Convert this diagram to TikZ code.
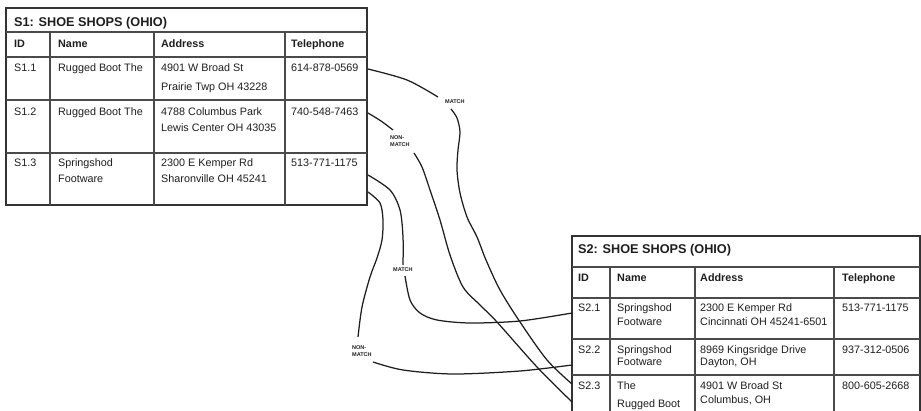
\documentclass[tikz,border=0pt]{standalone}
\usepackage{fontspec}
\setmainfont{Liberation Sans}
\definecolor{ink}{HTML}{1E1E1E}
\definecolor{rule}{HTML}{333333}
\definecolor{thin}{HTML}{4A4A4A}
\begin{document}
\begin{tikzpicture}[x=1pt,y=-1pt,
  outer/.style={draw=rule,line width=2pt},
  inner/.style={draw=thin,line width=1.1pt},
  link/.style={draw=ink,line width=1.25pt},
  cell/.style={anchor=base west,inner sep=0pt,text=ink,font=\fontsize{10.8}{13}\selectfont},
  hdr/.style={cell,font=\fontsize{10.8}{13}\selectfont\bfseries},
  ttl/.style={cell,font=\fontsize{12.7}{15}\selectfont\bfseries},
  lbl/.style={inner sep=0pt,text=ink,align=left,font=\fontsize{5.5}{7}\selectfont\bfseries}]
\useasboundingbox (0,0) rectangle (921,411);

% ---------- Table S1 ----------
\draw[outer] (6,8) rectangle (367,205);
\foreach \yy in {32,57,100,153} \draw[inner] (6,\yy) -- (367,\yy);
\foreach \xx in {50,154,285} \draw[inner] (\xx,32) -- (\xx,205);

\node[ttl] (a0) at (14,27) {S1: SHOE SHOPS (OHIO)};
\node[hdr] (ah1) at (14,48) {ID};
\node[hdr] (ah2) at (58,48) {Name};
\node[hdr] (ah3) at (161,48) {Address};
\node[hdr] (ah4) at (291,48) {Telephone};

\node[cell] (a11) at (14,72) {S1.1};
\node[cell] (a12) at (58,72) {Rugged Boot The};
\node[cell] (a13) at (161,72) {4901 W Broad St};
\node[cell] (a13b) at (161,91) {Prairie Twp OH 43228};
\node[cell] (a14) at (291,72) {614-878-0569};

\node[cell] (a21) at (14,116) {S1.2};
\node[cell] (a22) at (58,116) {Rugged Boot The};
\node[cell] (a23) at (161,116) {4788 Columbus Park};
\node[cell] (a23b) at (161,132) {Lewis Center OH 43035};
\node[cell] (a24) at (291,116) {740-548-7463};

\node[cell] (a31) at (14,167) {S1.3};
\node[cell] (a32) at (58,167) {Springshod};
\node[cell] (a32b) at (58,183) {Footware};
\node[cell] (a33) at (161,167) {2300 E Kemper Rd};
\node[cell] (a33b) at (161,183) {Sharonville OH 45241};
\node[cell] (a34) at (291,167) {513-771-1175};

% ---------- Table S2 ----------
\draw[outer] (572,236) rectangle (920,432);
\foreach \yy in {267,298,339,375} \draw[inner] (572,\yy) -- (920,\yy);
\foreach \xx in {610,695,834} \draw[inner] (\xx,267) -- (\xx,432);

\node[ttl] (b0) at (578,254) {S2: SHOE SHOPS (OHIO)};
\node[hdr] (bh1) at (578,282) {ID};
\node[hdr] (bh2) at (617,282) {Name};
\node[hdr] (bh3) at (700,282) {Address};
\node[hdr] (bh4) at (842,282) {Telephone};

\node[cell] (b11) at (578,312) {S2.1};
\node[cell] (b12) at (617,312) {Springshod};
\node[cell] (b12b) at (617,326) {Footware};
\node[cell] (b13) at (700,312) {2300 E Kemper Rd};
\node[cell] (b13b) at (700,326) {Cincinnati OH 45241-6501};
\node[cell] (b14) at (842,312) {513-771-1175};

\node[cell] (b21) at (578,354) {S2.2};
\node[cell] (b22) at (617,354) {Springshod};
\node[cell] (b22b) at (617,366) {Footware};
\node[cell] (b23) at (700,354) {8969 Kingsridge Drive};
\node[cell] (b23b) at (700,366) {Dayton, OH};
\node[cell] (b24) at (842,354) {937-312-0506};

\node[cell] (b31) at (578,390) {S2.3};
\node[cell] (b32) at (617,390) {The};
\node[cell] (b32b) at (617,407) {Rugged Boot};
\node[cell] (b33) at (700,390) {4901 W Broad St};
\node[cell] (b33b) at (700,404) {Columbus, OH};
\node[cell] (b34) at (842,390) {800-605-2668};

% ---------- labels ----------
\node[lbl,anchor=base west] (lm1) at (445,103.7) {MATCH};
\node[lbl,anchor=north west] (ln1) at (390,135) {NON-\\MATCH};
\node[lbl,anchor=base west] (lm2) at (393,272) {MATCH};
\node[lbl,anchor=north west] (ln2) at (352,345) {NON-\\MATCH};

% ---------- connector end points ----------
\coordinate (s11r) at (368,69);
\coordinate (s12r) at (368,113);
\coordinate (s13ra) at (368,175);
\coordinate (s13rb) at (368,192);
\coordinate (s21l) at (572,313);
\coordinate (s22l) at (572,365);
\coordinate (s23la) at (572,384);
\coordinate (s23lb) at (572,402);
\coordinate (m1a) at (438,97);
\coordinate (m1b) at (451,109);
\coordinate (n1a) at (393,130);
\coordinate (n1b) at (414,153);
\coordinate (m2a) at (403,265);
\coordinate (m2b) at (405,276);
\coordinate (n2a) at (358,337);
\coordinate (n2b) at (373,362);

% ---------- connectors ----------
\draw[link] plot[smooth] coordinates {(s11r) (407,80) (m1a)};
\draw[link] plot[smooth] coordinates {(m1b) (457,118) (460,132) (458,150) (457,170) (460,193) (467,217) (477,237) (486,260) (500,290) (520,322) (547,360) (s23la)};

\draw[link] plot[smooth] coordinates {(s12r) (381,121) (n1a)};
\draw[link] plot[smooth] coordinates {(n1b) (422,167) (430,190) (440,220) (450,255) (463,287) (480,305) (497,322) (537,367) (s23lb)};

\draw[link] plot[smooth] coordinates {(s13ra) (390,190) (400,210) (403,237) (m2a)};
\draw[link] plot[smooth] coordinates {(m2b) (410,300) (420,313) (437,320) (470,323) (520,321) (s21l)};

\draw[link] plot[smooth] coordinates {(s13rb) (380,203) (383,220) (382,240) (377,258) (370,277) (362,307) (n2a)};
\draw[link] plot[smooth] coordinates {(n2b) (403,370) (453,374) (520,371) (s22l)};
\end{tikzpicture}
\end{document}
